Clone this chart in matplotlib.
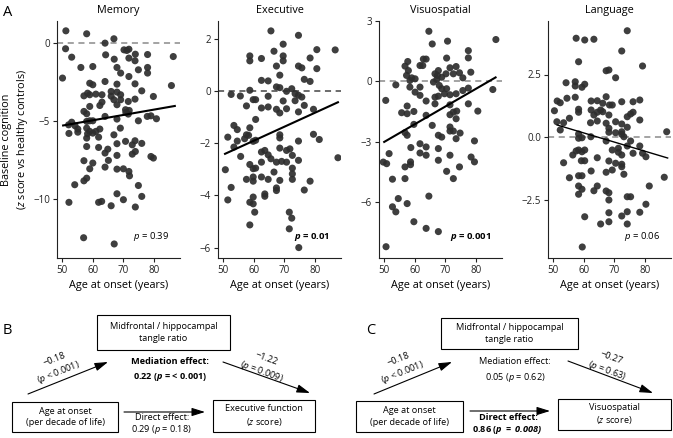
import matplotlib
matplotlib.use('Agg')
import matplotlib.pyplot as plt
from matplotlib.patches import Rectangle

plt.rcParams['font.family'] = ['Open Sans', 'DejaVu Sans']
plt.rcParams['mathtext.fontset'] = 'custom'
plt.rcParams['mathtext.rm'] = 'Open Sans'
plt.rcParams['mathtext.it'] = 'Open Sans:italic'
plt.rcParams['mathtext.bf'] = 'Open Sans:bold'
plt.rcParams['mathtext.bfit'] = 'Open Sans:italic:bold'

# ---------------- data ----------------
memory_age = [51.2, 58.0, 66.9, 64.0, 51.1, 53.1, 64.2, 70.2, 71.8, 71.1, 73.9, 77.9, 86.3, 67.0, 71.8,
              73.8, 56.1, 60.0, 67.9, 69.1, 74.9, 77.9, 77.9, 50.1, 71.8, 64.0, 73.8, 59.0, 60.0, 85.7,
              67.9, 76.0, 57.1, 58.3, 59.0, 61.0, 63.0, 66.0, 67.9, 66.0, 66.9, 69.1, 69.1, 71.6, 73.8,
              79.8, 62.3, 59.0, 67.9, 63.0, 70.7, 71.6, 57.1, 58.0, 77.8, 79.0, 80.8, 74.9, 67.9, 64.0,
              60.0, 58.0, 59.0, 53.1, 52.1, 54.2, 55.1, 58.0, 59.0, 60.0, 58.3, 61.0, 62.3, 55.1, 52.2,
              69.0, 58.0, 61.9, 66.9, 58.0, 61.9, 64.0, 64.9, 67.9, 70.7, 73.8, 72.9, 76.0, 73.9, 72.9,
              67.9, 65.1, 57.1, 60.0, 64.0, 67.9, 70.0, 71.8, 72.0, 59.0, 58.0, 57.1, 54.1, 74.9, 67.9,
              76.0, 52.2, 61.9, 62.9, 66.0, 70.0, 73.9, 79.0, 79.8, 71.9, 70.8, 57.0, 67.0]
memory_z = [0.77, 0.58, 0.26, -0.02, -0.38, -0.92, -0.77, -0.45, -0.41, -0.49, -0.73, -0.75, -0.88, -1.05,
            -0.98, -1.15, -1.58, -1.52, -1.58, -1.94, -1.73, -1.58, -1.94, -2.26, -2.16, -2.48, -2.63,
            -2.59, -2.69, -2.74, -2.65, -3.08, -3.40, -3.23, -3.33, -3.29, -3.33, -3.12, -3.16, -3.42,
            -3.65, -3.65, -3.33, -3.76, -3.61, -3.44, -4.02, -4.08, -3.97, -3.80, -4.29, -4.57, -4.40,
            -4.55, -4.72, -4.68, -4.87, -5.00, -4.89, -4.72, -5.00, -5.04, -5.00, -5.09, -5.26, -5.32,
            -5.53, -5.47, -5.68, -5.79, -5.83, -5.68, -5.53, -5.73, -5.81, -5.47, -6.11, -6.05, -5.90,
            -6.65, -6.71, -7.07, -6.82, -6.47, -6.32, -6.28, -6.54, -6.45, -6.97, -7.14, -7.22, -7.54,
            -7.56, -7.71, -7.97, -8.10, -8.08, -8.25, -8.53, -8.08, -8.68, -8.85, -9.10, -9.15, -9.68,
            -9.85, -10.23, -10.23, -10.17, -10.45, -10.06, -10.53, -7.29, -7.39, -4.34, -4.47, -12.5, -12.9]

executive_age = [65.6, 74.6, 69.6, 66.6, 80.6, 86.6, 58.7, 58.7, 62.5, 69.6, 69.6, 78.4, 67.4, 74.6, 75.7,
                 80.6, 68.5, 62.5, 64.7, 76.5, 78.4, 67.4, 68.5, 58.7, 70.7, 72.4, 73.5, 74.6, 75.7, 52.6,
                 55.6, 59.8, 60.6, 64.7, 69.6, 73.5, 76.5, 74.6, 57.6, 62.5, 64.7, 67.4, 68.5, 70.7, 79.5,
                 58.7, 53.5, 54.6, 60.6, 51.5, 57.6, 58.3, 57.0, 54.6, 59.8, 60.6, 68.5, 68.5, 53.5, 74.6,
                 79.5, 81.4, 55.7, 62.5, 63.6, 64.7, 68.5, 70.7, 71.8, 72.6, 62.5, 67.4, 70.7, 74.6, 87.5,
                 72.6, 72.6, 72.6, 50.7, 58.7, 59.8, 60.6, 66.6, 57.6, 59.8, 59.8, 62.5, 64.7, 68.5, 78.4,
                 52.6, 67.4, 67.4, 76.5, 51.5, 59.8, 63.6, 63.6, 58.7, 59.8, 60.3, 58.7, 71.6, 72.4, 71.6,
                 65.6, 69.1, 74.7]
executive_z = [2.32, 2.15, 1.81, 1.54, 1.60, 1.59, 1.36, 1.17, 1.26, 1.36, 1.17, 1.28, 0.97, 0.97, 0.90,
               0.87, 0.62, 0.42, 0.40, 0.46, 0.38, 0.17, 0.14, 0.04, 0.00, 0.10, -0.09, -0.15, -0.22,
               -0.12, -0.18, -0.32, -0.32, -0.19, -0.37, -0.36, -0.54, -0.79, -0.56, -0.64, -0.60, -0.69,
               -0.83, -0.67, -0.69, -1.40, -1.31, -1.47, -1.08, -1.76, -1.67, -1.69, -1.82, -1.91, -1.92,
               -1.88, -1.67, -1.79, -2.14, -1.91, -1.65, -1.85, -2.50, -2.33, -2.27, -2.44, -2.18, -2.27,
               -2.21, -2.46, -2.72, -2.72, -2.72, -2.65, -2.55, -2.95, -3.17, -3.38, -3.01, -2.81, -2.97,
               -2.95, -3.10, -3.38, -3.29, -3.45, -3.29, -3.38, -3.42, -3.45, -3.69, -3.71, -3.81, -3.79,
               -4.17, -4.06, -3.94, -4.03, -4.26, -4.32, -4.64, -5.13, -4.64, -4.87, -5.28, -2.59, -2.69,
               -6.0]

visuo_age = [64.6, 65.7, 70.7, 86.5, 77.5, 77.5, 62.8, 63.7, 57.7, 70.4, 56.8, 61.7, 62.6, 67.7, 71.5,
             73.5, 74.6, 78.3, 57.9, 57.3, 59.0, 60.1, 58.4, 66.6, 67.4, 68.8, 70.2, 72.6, 75.7, 53.8,
             58.4, 60.1, 61.7, 61.7, 66.1, 67.2, 68.0, 68.8, 70.4, 69.7, 71.5, 73.5, 75.7, 77.5, 85.5,
             50.5, 63.7, 66.6, 66.6, 67.7, 71.5, 77.5, 55.7, 57.5, 57.5, 59.7, 63.7, 71.5, 72.6, 73.7,
             73.5, 80.6, 59.7, 65.7, 56.8, 57.5, 71.5, 71.5, 72.6, 74.8, 73.5, 67.7, 68.8, 79.5, 58.7,
             61.7, 63.7, 61.7, 63.7, 67.7, 67.7, 71.5, 51.6, 58.6, 58.6, 50.8, 56.8, 78.4, 79.5, 74.6,
             70.4, 72.6, 52.7, 56.8, 64.6, 54.6, 52.7, 53.8, 57.5, 59.7, 63.7, 49.7, 67.7, 50.6]
visuo_z = [2.49, 1.86, 2.00, 2.08, 1.53, 1.17, 1.11, 1.11, 0.99, 1.16, 0.76, 0.79, 0.79, 0.54, 0.68,
           0.74, 0.43, 0.46, 0.54, 0.30, 0.18, 0.13, 0.05, 0.38, 0.30, 0.21, 0.38, 0.38, 0.18, -0.17,
           -0.28, -0.53, -0.28, -0.69, -0.03, 0.10, -0.20, -0.36, -0.36, -0.61, -0.66, -0.61, -0.45,
           -0.33, -0.40, -0.94, -0.97, -1.11, -0.78, -0.73, -1.16, -1.11, -1.55, -1.60, -1.22, -1.49,
           -1.68, -1.65, -1.52, -1.47, -1.85, -1.47, -2.13, -2.18, -2.54, -2.67, -2.26, -2.46, -2.46,
           -2.56, -2.84, -2.67, -2.76, -2.95, -3.28, -3.09, -3.25, -3.55, -3.66, -3.33, -3.91, -3.66,
           -3.58, -3.99, -4.13, -4.08, -4.24, -3.75, -3.99, -4.24, -4.46, -4.82, -4.85, -4.82, -5.69,
           -5.81, -6.22, -6.47, -6.06, -6.96, -7.29, -4.00, -7.45, -8.2]

language_age = [74.2, 57.5, 60.3, 63.3, 72.4, 58.3, 67.3, 68.2, 79.2, 70.4, 54.2, 57.2, 57.2, 59.4, 60.3,
                51.3, 52.3, 54.5, 57.2, 50.4, 58.3, 58.3, 62.4, 64.4, 66.2, 67.3, 68.4, 69.3, 72.4, 76.1,
                78.3, 62.4, 63.3, 64.4, 65.5, 66.2, 68.2, 74.2, 75.3, 76.1, 78.3, 51.2, 53.4, 55.3, 62.2,
                64.4, 67.3, 70.4, 72.4, 52.3, 68.2, 68.2, 72.4, 74.2, 58.3, 58.3, 59.4, 62.3, 67.3, 70.4,
                72.4, 73.1, 75.3, 87.1, 58.3, 57.5, 60.3, 59.4, 69.3, 71.3, 71.3, 72.4, 74.2, 76.1, 78.3,
                79.2, 80.3, 56.4, 53.4, 59.2, 60.3, 64.4, 68.2, 70.4, 72.4, 72.4, 73.1, 69.3, 67.3, 62.4,
                55.3, 58.3, 59.4, 58.3, 58.3, 59.4, 63.3, 64.4, 67.3, 68.2, 68.2, 74.2, 75.3, 80.3, 81.4,
                86.3, 60.3, 65.5, 68.2, 68.2, 72.4, 74.2, 74.2, 78.3, 59.5]
language_z = [4.25, 3.95, 3.88, 3.91, 3.44, 3.01, 2.65, 2.68, 2.84, 2.37, 2.17, 2.21, 2.04, 1.99, 2.11,
              1.44, 1.37, 1.55, 1.59, 1.05, 1.11, 0.99, 1.44, 1.45, 1.35, 1.61, 1.28, 1.28, 1.41, 1.41,
              1.48, 1.08, 0.88, 0.99, 1.08, 1.01, 0.88, 0.81, 0.92, 0.99, 0.68, 0.61, 0.57, 0.75, 0.57,
              0.64, 0.55, 0.61, 0.52, 0.28, 0.35, 0.19, 0.21, 0.39, 0.12, -0.05, -0.03, 0.01, -0.16,
              0.17, 0.11, 0.01, -0.16, 0.21, -0.52, -0.56, -0.52, -0.59, -0.52, -0.45, -0.61, -0.72,
              -0.36, -0.65, -0.36, -0.65, -0.79, -0.72, -1.03, -0.95, -0.95, -0.83, -0.96, -1.05, -1.09,
              -1.19, -1.49, -1.32, -1.41, -1.36, -1.63, -1.55, -1.55, -1.96, -2.29, -2.09, -2.15, -1.96,
              -2.16, -2.23, -2.52, -2.39, -2.39, -2.69, -1.96, -1.61, -3.19, -3.48, -3.39, -3.03, -3.16,
              -2.99, -3.48, -3.01, -4.4]

titles = ["Memory", "Executive", "Visuospatial", "Language"]
fit_age = [[50.3, 86.8], [50.6, 87.5], [50.0, 86.4], [51.3, 87.4]]
fit_z = [[-5.3, -4.05], [-2.4, -0.42], [-3.0, 0.2], [0.48, -0.84]]
p_labels = [r"$\mathit{p}$ = 0.39", r"$\mathbfit{p}$ = 0.01", r"$\mathbfit{p}$ = 0.001", r"$\mathit{p}$ = 0.06"]
p_bold = [False, True, True, False]
yticks = [[-10, -5, 0], [-6, -4, -2, 0, 2], [-6, -3, 0, 3], [-2.5, 0.0, 2.5]]
ylims = [(-13.8, 1.4), (-6.4, 2.7), (-8.76, 3.0), (-4.84, 4.64)]
xticks = [50, 60, 70, 80]

ages = [memory_age, executive_age, visuo_age, language_age]
scores = [memory_z, executive_z, visuo_z, language_z]

# ---------------- figure ----------------
W, H = 673, 438
fig = plt.figure(figsize=(W / 100, H / 100), dpi=100)

lefts = [57, 218, 379, 548]
ax_w, ax_top, ax_bot = 123, 21, 258
line_w = [1.5, 1.5, 1.5, 1.0]
zero_col = ['#8a8a8a', '#444444', '#8a8a8a', '#8a8a8a']

for i in range(4):
    ax = fig.add_axes([lefts[i] / W, (H - ax_bot) / H, ax_w / W, (ax_bot - ax_top) / H])
    ax.axhline(0, color=zero_col[i], lw=1.1, ls=(0, (4, 3)), zorder=1)
    ax.scatter(ages[i], scores[i], s=26, color='#2e2e2e', alpha=0.92, edgecolors='none', zorder=2)
    ax.plot(fit_age[i], fit_z[i], color='black', lw=line_w[i], zorder=3)
    ax.set_xlim(48.3, 88.5)
    ax.set_ylim(*ylims[i])
    ax.set_xticks(xticks)
    ax.set_yticks(yticks[i])
    if i == 3:
        ax.set_yticklabels([f"{v:.1f}".replace('-', '\u2212') for v in yticks[i]])
    for s in ['top', 'right']:
        ax.spines[s].set_visible(False)
    for s in ['left', 'bottom']:
        ax.spines[s].set_linewidth(0.8)
        ax.spines[s].set_color('#222222')
    ax.tick_params(labelsize=7, length=3, width=0.8, pad=2, colors='#222222')
    ax.set_title(titles[i], fontsize=7.8, pad=6)
    ax.set_xlabel("Age at onset (years)", fontsize=7.8, labelpad=3)
    ax.text(0.91, 0.09, p_labels[i], transform=ax.transAxes, ha='right', va='center',
            fontsize=6.8, fontweight='bold' if p_bold[i] else 'normal')
    if i == 0:
        ax.set_ylabel("Baseline cognition\n($\\mathit{z}$ score vs healthy controls)", fontsize=7.8,
                      labelpad=2, linespacing=1.3)

# ---------------- diagrams ----------------
ad = fig.add_axes([0, 0, 1, 1])
ad.set_xlim(0, W)
ad.set_ylim(H, 0)
ad.axis('off')
ad.patch.set_alpha(0)

fig.text(3 / W, 1 - 12 / H, "A", fontsize=10.5, va='center', ha='left')
ad.text(3, 330, "B", fontsize=10.5, va='center', ha='left')
ad.text(366, 330, "C", fontsize=10.5, va='center', ha='left')

fs = 6.6


def box(x0, y0, x1, y1, label):
    ad.add_patch(Rectangle((x0, y0), x1 - x0, y1 - y0, fill=False, lw=0.8, ec='black'))
    ad.text((x0 + x1) / 2, (y0 + y1) / 2, label, ha='center', va='center', fontsize=fs,
            linespacing=1.3, multialignment='center')


def arrow(p0, p1):
    ad.annotate('', xy=p1, xytext=p0,
                arrowprops=dict(arrowstyle='-|>,head_length=0.8,head_width=0.25', color='black',
                                lw=0.8, shrinkA=0, shrinkB=0))


mid_label = "Midfrontal / hippocampal\ntangle ratio"
age_label = "Age at onset\n(per decade of life)"

# Panel B
box(97, 315, 230, 350, mid_label)
box(12, 402, 118, 432, age_label)
box(213, 400, 315, 432, "Executive function\n($\\mathit{z}$ score)")
arrow((28, 394), (108, 362))
arrow((223, 362), (310, 393))
arrow((124, 412), (205, 412))
ad.text(57, 367, "\u22120.18\n($\\mathit{p}$ < 0.001)", rotation=22, ha='center', va='center',
        fontsize=fs, rotation_mode='anchor', multialignment='center', linespacing=1.3)
ad.text(264, 366, "\u22121.22\n($\\mathit{p}$ = 0.009)", rotation=-20, ha='center', va='center',
        fontsize=fs, rotation_mode='anchor', multialignment='center', linespacing=1.3)
ad.text(170, 362, "Mediation effect:", ha='center', va='center', fontsize=fs, fontweight='bold')
ad.text(170, 377, "0.22 ($\\mathbfit{p}$ = < 0.001)", ha='center', va='center', fontsize=fs,
        fontweight='bold')
ad.text(162, 418, "Direct effect:", ha='center', va='center', fontsize=fs)
ad.text(161, 429, "0.29 ($\\mathit{p}$ = 0.18)", ha='center', va='center', fontsize=fs)

# Panel C
box(441, 318, 578, 349, mid_label)
box(356, 401, 463, 432, age_label)
box(558, 399, 671, 430, "Visuospatial\n($\\mathit{z}$ score)")
arrow((374, 394), (452, 362))
arrow((568, 361), (653, 393))
arrow((470, 411), (550, 411))
ad.text(401, 367, "\u22120.18\n($\\mathit{p}$ < 0.001)", rotation=22, ha='center', va='center',
        fontsize=fs, rotation_mode='anchor', multialignment='center', linespacing=1.3)
ad.text(609, 365, "\u22120.27\n($\\mathit{p}$ = 0.63)", rotation=-20, ha='center', va='center',
        fontsize=fs, rotation_mode='anchor', multialignment='center', linespacing=1.3)
ad.text(515, 361, "Mediation effect:", ha='center', va='center', fontsize=fs)
ad.text(515, 377, "0.05 ($\\mathit{p}$ = 0.62)", ha='center', va='center', fontsize=fs)
ad.text(508, 418, "Direct effect:", ha='center', va='center', fontsize=fs, fontweight='bold')
ad.text(507, 430, "0.86 ($\\mathbfit{p\\ =\\ 0.008)}$", ha='center', va='center', fontsize=fs,
        fontweight='bold')

fig.savefig("out.png", dpi=100)
